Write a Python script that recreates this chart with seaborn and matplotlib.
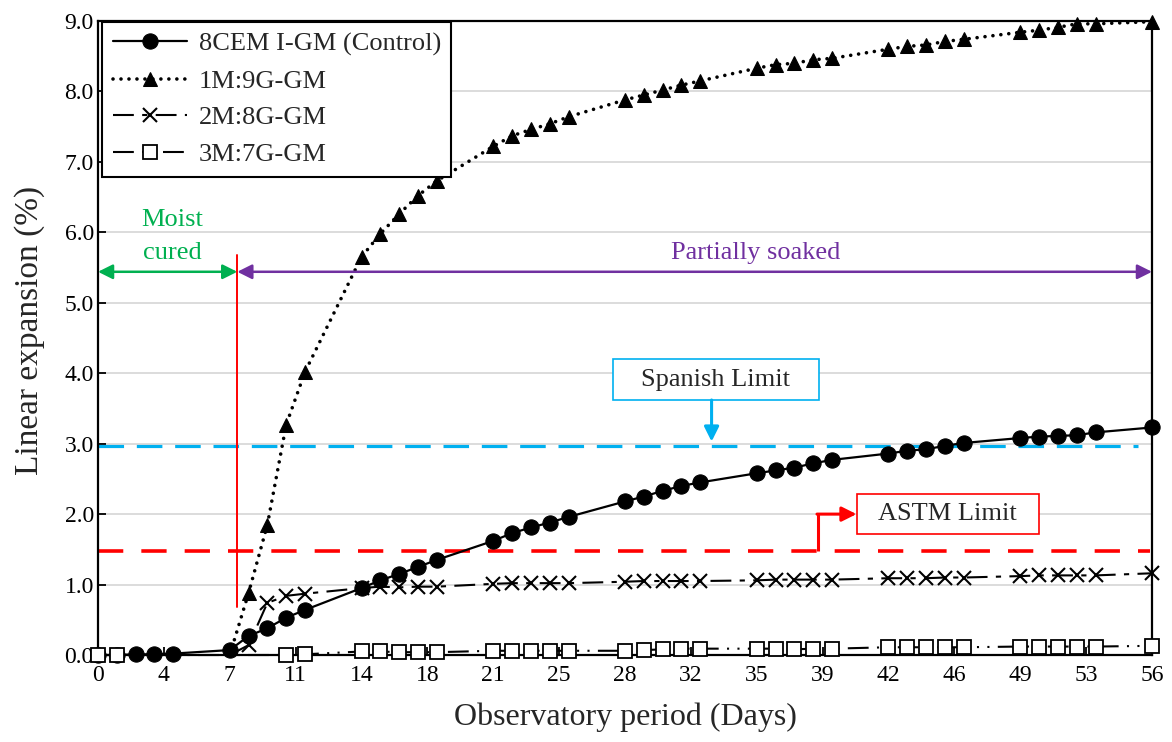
import numpy as np
import pandas as pd
import matplotlib
matplotlib.use("Agg")
import matplotlib.pyplot as plt
import seaborn as sns
from matplotlib.patches import Rectangle

# ---------------- data ----------------
days_all = [0, 1, 2, 3, 4, 7, 8, 9, 10, 11, 14, 15, 16, 17, 18, 21, 22, 23, 24, 25,
            28, 29, 30, 31, 32, 35, 36, 37, 38, 39, 42, 43, 44, 45, 46, 49, 50, 51, 52, 53, 56]
control_vals = [0.00, 0.00, 0.01, 0.01, 0.02, 0.07, 0.27, 0.38, 0.53, 0.64,
                0.95, 1.06, 1.15, 1.25, 1.35, 1.62, 1.73, 1.81, 1.88, 1.96,
                2.18, 2.25, 2.33, 2.40, 2.45, 2.58, 2.62, 2.66, 2.72, 2.77,
                2.86, 2.90, 2.92, 2.97, 3.01, 3.08, 3.10, 3.11, 3.12, 3.16, 3.23]

days_soak = [7, 8, 9, 10, 11, 14, 15, 16, 17, 18, 21, 22, 23, 24, 25,
             28, 29, 30, 31, 32, 35, 36, 37, 38, 39, 42, 43, 44, 45, 46, 49, 50, 51, 52, 53, 56]
m1g9_vals = [0.00, 0.88, 1.85, 3.27, 4.02, 5.65, 5.98, 6.26, 6.52, 6.73,
             7.22, 7.37, 7.46, 7.54, 7.64, 7.88, 7.95, 8.02, 8.09, 8.15,
             8.33, 8.38, 8.40, 8.45, 8.47, 8.60, 8.64, 8.66, 8.71, 8.74,
             8.84, 8.87, 8.91, 8.96, 8.96, 8.99]
m2g8_vals = [0.00, 0.14, 0.74, 0.84, 0.87, 0.95, 0.97, 0.96, 0.97, 0.97,
             1.01, 1.02, 1.02, 1.02, 1.02, 1.04, 1.05, 1.05, 1.05, 1.05,
             1.06, 1.07, 1.07, 1.07, 1.07, 1.09, 1.09, 1.09, 1.10, 1.10,
             1.12, 1.13, 1.13, 1.13, 1.13, 1.16]

days_m3 = [0, 1, 10, 11, 14, 15, 16, 17, 18, 21, 22, 23, 24, 25,
           28, 29, 30, 31, 32, 35, 36, 37, 38, 39, 42, 43, 44, 45, 46, 49, 50, 51, 52, 53, 56]
m3g7_vals = [0.00, 0.00, 0.00, 0.01, 0.05, 0.05, 0.04, 0.04, 0.04,
             0.06, 0.06, 0.06, 0.06, 0.06, 0.06, 0.07, 0.08, 0.09, 0.09,
             0.09, 0.09, 0.08, 0.09, 0.09, 0.11, 0.11, 0.11, 0.11, 0.11,
             0.12, 0.12, 0.12, 0.12, 0.12, 0.13]

series_names = ["8CEM I-GM (Control)", "1M:9G-GM", "2M:8G-GM", "3M:7G-GM"]

x_tick_pos = [0, 3.5, 7, 10.5, 14, 17.5, 21, 24.5, 28, 31.5, 35, 38.5, 42, 45.5, 49, 52.5, 56]
x_tick_labels = ["0", "4", "7", "11", "14", "18", "21", "25", "28", "32",
                 "35", "39", "42", "46", "49", "53", "56"]
y_ticks = [0, 1, 2, 3, 4, 5, 6, 7, 8, 9]

spanish_limit = 2.97
astm_limit = 1.48
stage_split = 7.4

# ---------------- style ----------------
sns.set_style("ticks")
plt.rcParams["font.family"] = ["Liberation Serif", "DejaVu Serif"]

fig = plt.figure(figsize=(11.72, 7.42), dpi=100)
ax = fig.add_axes([98 / 1172, 87 / 742, (1152 - 98) / 1172, (655 - 21) / 742])

df_c = pd.DataFrame({"day": days_all, "exp": control_vals})
df_1 = pd.DataFrame({"day": days_soak, "exp": m1g9_vals})
df_2 = pd.DataFrame({"day": days_soak, "exp": m2g8_vals})
df_3 = pd.DataFrame({"day": days_m3, "exp": m3g7_vals})

common = dict(estimator=None, sort=False, clip_on=False)
sns.lineplot(data=df_c, x="day", y="exp", ax=ax, color="black", lw=1.6,
             marker="o", markersize=11, markeredgecolor="black", markerfacecolor="black",
             label=series_names[0], zorder=4, **common)
sns.lineplot(data=df_1, x="day", y="exp", ax=ax, color="black", lw=2.6,
             linestyle=(0, (0.01, 2.2)), dash_capstyle="round",
             marker="^", markersize=10, markeredgecolor="black", markerfacecolor="black",
             markevery=list(range(1, len(days_soak))),
             label=series_names[1], zorder=3, **common)
sns.lineplot(data=df_2, x="day", y="exp", ax=ax, color="black", lw=1.5,
             linestyle=(0, (10, 4, 2.5, 4)),
             marker="x", markersize=10, markeredgewidth=1.5, markeredgecolor="black",
             markevery=list(range(1, len(days_soak))),
             label=series_names[2], zorder=5, **common)
sns.lineplot(data=df_3, x="day", y="exp", ax=ax, color="black", lw=1.5,
             linestyle=(0, (10, 4, 1, 4, 1, 4)),
             marker="s", markersize=9.5, markeredgewidth=1.3, markeredgecolor="black",
             markerfacecolor="white",
             label=series_names[3], zorder=6, **common)

# limit lines
ax.plot([0, 55.25], [spanish_limit, spanish_limit], color="#00B0F0", lw=2.3,
        linestyle=(0, (8, 4)), zorder=2)
ax.plot([0, 55.9], [astm_limit, astm_limit], color="#FF0000", lw=2.6,
        linestyle=(0, (7, 5)), zorder=2)

# stage separator
ax.plot([stage_split, stage_split], [0.68, 5.68], color="#FF0000", lw=1.4, zorder=2)

# stage arrows
ax.annotate("", xy=(0, 5.44), xytext=(stage_split, 5.44),
            arrowprops=dict(arrowstyle="<|-|>", color="#00B050", lw=1.8,
                            mutation_scale=22, shrinkA=0, shrinkB=0))
ax.annotate("", xy=(stage_split, 5.44), xytext=(56, 5.44),
            arrowprops=dict(arrowstyle="<|-|>", color="#7030A0", lw=1.8,
                            mutation_scale=22, shrinkA=0, shrinkB=0))
ann_fs = 19
ax.text(3.94, 6.17, "Moist", color="#00B050", fontsize=ann_fs, ha="center", va="center")
ax.text(3.94, 5.71, "cured", color="#00B050", fontsize=ann_fs, ha="center", va="center")
ax.text(34.97, 5.71, "Partially soaked", color="#7030A0", fontsize=ann_fs,
        ha="center", va="center")

# Spanish limit box
ax.add_patch(Rectangle((27.34, 3.62), 38.30 - 27.34, 4.20 - 3.62, facecolor="white",
                       edgecolor="#00B0F0", lw=1.2, zorder=7))
ax.text(32.82, 3.91, "Spanish Limit", fontsize=ann_fs, ha="center", va="center", zorder=8)
ax.annotate("", xy=(32.6, 3.03), xytext=(32.6, 3.62),
            arrowprops=dict(arrowstyle="-|>", color="#00B0F0", lw=2.2,
                            mutation_scale=22, shrinkA=0, shrinkB=0), zorder=7)

# ASTM limit box
ax.add_patch(Rectangle((40.32, 1.718), 49.99 - 40.32, 2.286 - 1.718, facecolor="white",
                       edgecolor="#FF0000", lw=1.2, zorder=7))
ax.text(45.15, 2.0, "ASTM Limit", fontsize=ann_fs, ha="center", va="center", zorder=8)
ax.plot([38.26, 38.26], [astm_limit, 2.0], color="#FF0000", lw=2.2, zorder=7,
        solid_capstyle="butt")
ax.annotate("", xy=(40.3, 2.0), xytext=(38.2, 2.0),
            arrowprops=dict(arrowstyle="-|>", color="#FF0000", lw=2.2,
                            mutation_scale=22, shrinkA=0, shrinkB=0), zorder=7)

# axes
ax.set_xlim(0, 56)
ax.set_ylim(0, 9)
ax.set_xticks(x_tick_pos)
ax.set_xticklabels(x_tick_labels)
ax.set_yticks(y_ticks)
ax.set_yticklabels([f"{v:.1f}" for v in y_ticks])
ax.tick_params(axis="both", direction="in", length=6, width=1.3, labelsize=17,
               colors="black")
ax.tick_params(axis="x", pad=7)
ax.tick_params(axis="y", pad=3)
ax.yaxis.grid(True, color="#D9D9D9", lw=1.3, zorder=0)
ax.set_axisbelow(True)
for s in ax.spines.values():
    s.set_color("black")
    s.set_linewidth(1.6)
    s.set_visible(True)

ax.set_xlabel("Observatory period (Days)", fontsize=23)
ax.set_ylabel("Linear expansion (%)", fontsize=24)
ax.xaxis.set_label_coords(0.5, (655 - 702) / 634)
ax.yaxis.set_label_coords((45 - 98) / 1054, (655 - 330) / 634)

leg = ax.legend(loc="upper left", bbox_to_anchor=(0.004, 0.999), borderaxespad=0,
                fontsize=19, frameon=True, fancybox=False, edgecolor="black",
                framealpha=1, handlelength=2.8, handletextpad=0.45,
                labelspacing=0.5, borderpad=0.4, numpoints=1)
leg.get_frame().set_linewidth(1.5)
leg.set_zorder(10)

fig.savefig("out.png", dpi=100, facecolor="white")
